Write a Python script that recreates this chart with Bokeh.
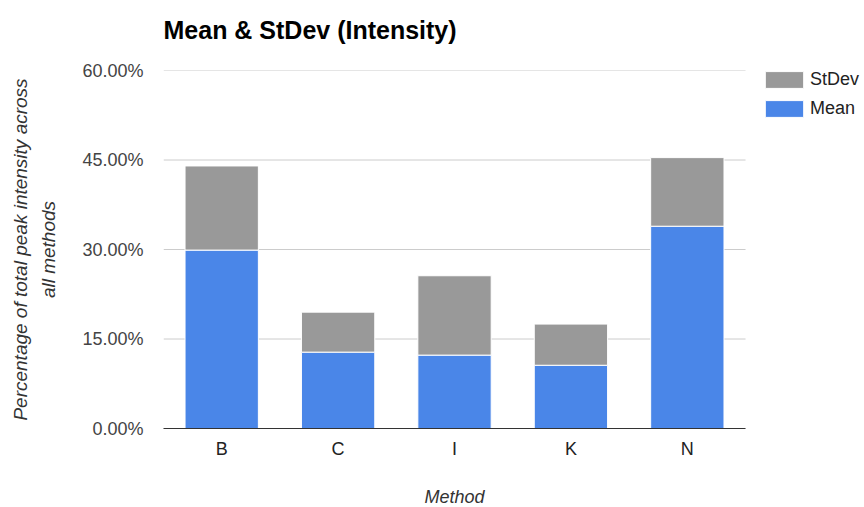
from bokeh.plotting import figure
from bokeh.models import (ColumnDataSource, Legend, LegendItem, PrintfTickFormatter,
                          FixedTicker, Range1d, Title)
from bokeh.embed import file_html
from bokeh.resources import INLINE

# Data: percentage of total peak intensity per method
methods = ["B", "C", "I", "K", "N"]
mean_vals = [29.9, 12.8, 12.3, 10.6, 33.9]
stdev_vals = [14.1, 6.7, 13.3, 6.9, 11.5]
y_ticks = [0, 15, 30, 45, 60]

BLUE = "#4a86e8"
GRAY = "#999999"
FONT = "Liberation Sans"

# Methods sit at 1..N; the range runs past the last slot to leave room for the legend
positions = list(range(1, len(methods) + 1))
slot_lo, slot_hi = 0.5, len(methods) + 0.5
legend_room = 1.022  # extra slots to the right of the bars

source = ColumnDataSource(data=dict(x=positions, method=methods,
                                    Mean=mean_vals, StDev=stdev_vals))

p = figure(
    x_range=Range1d(slot_lo, slot_hi + legend_room),
    y_range=Range1d(0, 60),
    width=864,
    height=507,
    output_backend="svg",
    toolbar_location=None,
    min_border_left=163,
    min_border_right=0,
    min_border_top=70,
    min_border_bottom=79,
    title=None,
)

# Horizontal gridlines only across the bar area
p.segment(x0=[slot_lo] * len(y_ticks), x1=[slot_hi] * len(y_ticks),
          y0=y_ticks, y1=y_ticks, line_color="#cccccc", line_width=1)

renderers = p.vbar_stack(
    ["Mean", "StDev"],
    x="x",
    width=0.63,
    source=source,
    color=[BLUE, GRAY],
    line_color="white",
    line_width=1,
)

# Chart title, lifted off the frame by an empty spacer line
p.add_layout(Title(text=" ", text_font=FONT, text_font_size="19px", standoff=0), "above")
p.add_layout(Title(
    text="Mean & StDev (Intensity)",
    align="left",
    standoff=8,
    text_font=FONT,
    text_font_size="25px",
    text_font_style="bold",
    text_color="#000000",
), "above")

# Frame styling
p.outline_line_color = None
p.background_fill_color = "white"
p.border_fill_color = "white"
p.xgrid.grid_line_color = None
p.ygrid.grid_line_color = None

# Y axis
p.yaxis.ticker = FixedTicker(ticks=y_ticks)
p.yaxis.formatter = PrintfTickFormatter(format="%.2f%%")
p.yaxis.axis_line_color = None
p.yaxis.major_tick_line_color = None
p.yaxis.minor_tick_line_color = None
p.yaxis.major_label_text_font = FONT
p.yaxis.major_label_text_font_size = "18px"
p.yaxis.major_label_text_color = "#444444"
p.yaxis.major_label_standoff = 14
p.yaxis.axis_label = "Percentage of total peak intensity across\nall methods"
p.yaxis.axis_label_text_font = FONT
p.yaxis.axis_label_text_font_size = "19px"
p.yaxis.axis_label_text_font_style = "italic"
p.yaxis.axis_label_text_color = "#333333"
p.yaxis.axis_label_text_line_height = 1.35
p.yaxis.axis_label_standoff = 20

# X axis: method letters at each slot, axis line only under the bars
p.xaxis.ticker = FixedTicker(ticks=positions)
p.xaxis.major_label_overrides = {pos: name for pos, name in zip(positions, methods)}
p.xaxis.bounds = (slot_lo, slot_hi)
p.xaxis.axis_line_color = "#333333"
p.xaxis.axis_line_width = 1
p.xaxis.major_tick_line_color = None
p.xaxis.minor_tick_line_color = None
p.xaxis.major_label_text_font = FONT
p.xaxis.major_label_text_font_size = "18px"
p.xaxis.major_label_text_color = "#222222"
p.xaxis.major_label_standoff = 4

# X axis title, centred under the bar area, below a spacer line
p.add_layout(Title(text=" ", text_font=FONT, text_font_size="18px", standoff=0), "below")
p.add_layout(Title(
    text="Method",
    align="left",
    offset=261,
    standoff=2,
    text_font=FONT,
    text_font_size="18px",
    text_font_style="italic",
    text_color="#333333",
), "below")

# Legend (StDev listed first, as stacked)
legend = Legend(
    items=[
        LegendItem(label="StDev", renderers=[renderers[1]]),
        LegendItem(label="Mean", renderers=[renderers[0]]),
    ],
    location=(597, 309),
    orientation="vertical",
    border_line_color=None,
    background_fill_alpha=0,
    glyph_width=48,
    glyph_height=21,
    label_height=21,
    label_text_font=FONT,
    label_text_font_size="18px",
    label_text_color="#222222",
    label_standoff=2,
    spacing=8,
    padding=0,
    margin=0,
)
p.add_layout(legend, "center")

open("out.html", "w").write(file_html(p, INLINE))
